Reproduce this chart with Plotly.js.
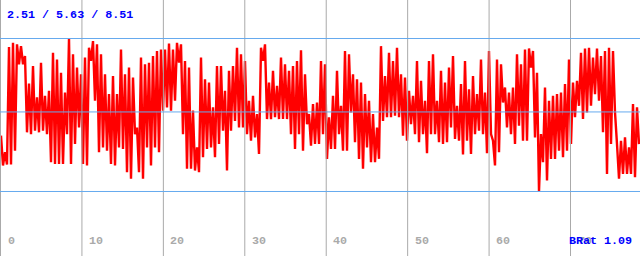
<!DOCTYPE html>
<html>
<head>
<meta charset="utf-8">
<script src="https://cdn.plot.ly/plotly-3.0.1.min.js"></script>
<style>
  html, body { margin: 0; padding: 0; background: #ffffff; }
  #chart { width: 640px; height: 256px; }
</style>
</head>
<body>
<div id="chart"></div>
<script>
// ---- data ----
const tickValues = [0, 10, 20, 30, 40, 50, 60, 70];
const tickLabels = ['0', '10', '20', '30', '40', '50', '60', '70'];
const stats = [2.51, 5.63, 8.51];          // min / avg / max
const seriesName = 'BRat';
const seriesLast = '1.09';

// BRat signal, sampled evenly along the x axis (envelope high / low per step)
const brat = [
  // 0 .. ~15.7
  4.70,3.53, 4.05,3.57, 8.18,3.57, 8.34,4.11, 8.28,7.50, 8.21,7.50, 7.82,4.83, 6.74,4.76,
  7.43,4.89, 6.20,4.83, 7.56,4.89, 6.26,4.76, 6.46,3.66, 7.95,3.59, 7.69,3.59, 7.17,3.59,
  6.39,4.76, 8.51,3.59, 7.89,4.37, 7.37,5.02, 7.11,3.59, 7.76,3.53, 8.15,7.63, 8.41,6.07,
  8.28,4.05, 7.89,4.24, 7.11,4.11, 6.33,3.59, 7.04,3.53, 6.33,4.24, 8.08,4.18, 7.11,3.27,
  // ~15.7 .. ~31.4
  7.37,3.01, 6.98,4.76, 5.02,3.27, 7.76,3.01, 7.50,4.24, 7.56,3.53, 7.82,4.24, 8.02,4.05,
  8.08,5.68, 8.08,5.81, 8.31,5.68, 8.08,6.07, 8.34,7.56, 8.28,4.76, 7.63,3.40, 7.37,3.40,
  5.68,3.33, 4.24,3.27, 7.76,3.85, 6.91,4.18, 6.78,4.24, 5.81,3.85, 7.43,4.37, 7.43,4.89,
  6.46,3.33, 7.24,4.89, 7.43,5.28, 8.15,5.02, 7.89,5.02, 7.63,4.76, 6.07,4.50, 6.26,4.63,
  // ~31.4 .. ~47.2
  5.55,3.98, 8.15,7.63, 8.28,5.35, 6.78,5.35, 7.24,5.42, 6.65,5.35, 7.76,5.35, 7.50,5.35,
  7.24,4.76, 7.43,4.18, 7.63,4.76, 8.05,4.11, 7.11,5.15, 5.55,4.31, 5.94,4.37, 6.00,4.37,
  7.63,4.76, 7.50,3.79, 5.42,4.18, 6.26,4.18, 7.24,4.76, 5.87,4.11, 8.02,4.11, 7.89,5.61,
  7.11,4.44, 6.91,3.79, 6.78,3.40, 6.33,4.24, 6.07,3.66, 5.55,3.66, 5.02,3.79, 8.21,5.28,
  // ~47.2 .. ~62.9
  7.04,5.42, 7.95,5.42, 7.63,5.48, 8.15,5.42, 7.11,4.70, 6.98,4.50, 6.46,5.15, 6.26,4.76,
  7.63,4.44, 6.85,4.76, 6.07,4.01, 7.63,4.76, 7.89,4.76, 6.07,4.44, 7.24,4.37, 6.78,4.44,
  7.37,5.02, 7.82,4.57, 5.87,4.50, 6.72,3.96, 7.63,4.50, 6.52,3.98, 7.04,4.76, 6.33,4.89,
  7.69,4.76, 6.39,4.01, 8.02,4.76, 4.50,3.53, 7.69,4.05, 7.50,6.00, 6.59,5.02, 6.39,4.76,
  // ~62.9 .. ~78.5
  6.59,4.37, 7.89,5.09, 7.50,4.50, 8.08,4.50, 8.12,7.37, 8.02,4.63, 7.17,2.51, 4.76,3.66,
  6.59,2.94, 6.07,3.79, 6.26,3.79, 6.33,4.11, 6.39,3.85, 6.72,4.11, 7.69,4.37, 6.78,5.42,
  6.85,5.87, 7.95,5.35, 8.12,5.61, 8.15,5.87, 7.76,6.33, 8.12,6.07, 7.82,4.83, 8.02,3.20,
  8.15,4.37, 8.02,5.61, 4.37,3.01, 4.50,3.20, 4.63,3.20, 4.24,3.20, 5.94,3.07, 5.81,4.37
];

// ---- chart ----
const FONT = 'Liberation Mono, DejaVu Sans Mono, monospace';
const GRID_X = '#aaaaaa';
const GRID_Y = '#66aaee';

const trace = {
  type: 'scatter',
  mode: 'lines',
  y: brat,
  x0: 0.0614,
  dx: 0.24561,
  line: { color: '#ff0000', width: 2.4 },
  hoverinfo: 'skip',
  showlegend: false
};

const shapes = [];
tickValues.forEach(t => shapes.push({
  type: 'line', xref: 'x', yref: 'paper', x0: t, x1: t, y0: 0, y1: 1,
  line: { color: GRID_X, width: 1 }, layer: 'above'
}));
stats.forEach(s => shapes.push({
  type: 'line', xref: 'paper', yref: 'y', x0: 0, x1: 1, y0: s, y1: s,
  line: { color: GRID_Y, width: 1 }, layer: 'above'
}));

const annotations = [];
tickValues.forEach((t, i) => annotations.push({
  xref: 'x', yref: 'paper', x: t, y: 15 / 256,
  xanchor: 'left', yanchor: 'middle', xshift: 5,
  text: tickLabels[i], showarrow: false,
  font: { family: FONT, size: 11.7, color: '#aaaaaa', weight: 'bold' }
}));
annotations.push({
  xref: 'paper', yref: 'paper', x: 5 / 640, y: 1 - 15 / 256,
  xanchor: 'left', yanchor: 'middle',
  text: stats.map(v => v.toFixed(2)).join(' / '), showarrow: false,
  font: { family: FONT, size: 11.7, color: '#0000ff', weight: 'bold' }
});
annotations.push({
  xref: 'paper', yref: 'paper', x: 634 / 640, y: 15 / 256,
  xanchor: 'right', yanchor: 'middle',
  text: seriesName + ' ' + seriesLast, showarrow: false,
  font: { family: FONT, size: 11.7, color: '#0000ff', weight: 'bold' }
});

const layout = {
  width: 640, height: 256,
  margin: { l: 0, r: 0, t: 0, b: 0, pad: 0 },
  paper_bgcolor: '#ffffff', plot_bgcolor: '#ffffff',
  showlegend: false,
  xaxis: { range: [-0.0614, 78.534], showgrid: false, zeroline: false, showticklabels: false, ticks: '', showline: false, fixedrange: true },
  yaxis: { range: [-0.02, 10.02], showgrid: false, zeroline: false, showticklabels: false, ticks: '', showline: false, fixedrange: true },
  shapes: shapes,
  annotations: annotations
};

Plotly.newPlot('chart', [trace], layout, { staticPlot: true, displayModeBar: false });
</script>
</body>
</html>
